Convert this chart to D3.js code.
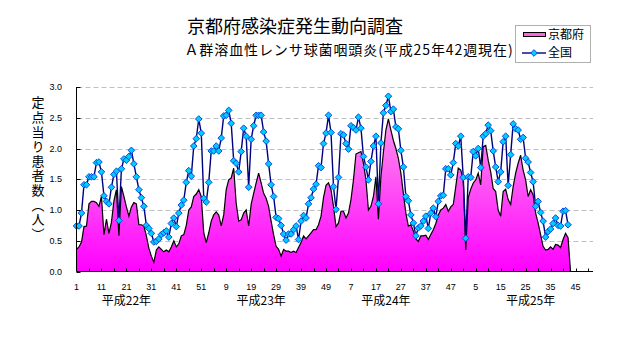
<!DOCTYPE html>
<html>
<head>
<meta charset="utf-8">
<script src="https://cdn.jsdelivr.net/npm/d3@7"></script>
<style>
  body { margin: 0; background: #fff; }
  text { font-family: "Noto Sans CJK JP", sans-serif; fill: #000; }
  .tick-num { font-family: "Liberation Sans Narrow", "Liberation Sans", sans-serif; font-size: 9px; }
</style>
</head>
<body>
<div class="chart"></div>
<script>
// chart texts
let title = "京都府感染症発生動向調査";
let subtitle = "Ａ群溶血性レンサ球菌咽頭炎(平成25年42週現在)";
let yTitle = "定点当り患者数（人）";
let legendNames = ["京都府", "全国"];

// weeks on the category axis: 4 years of 52 weeks
let yearNames = ["平成22年", "平成23年", "平成24年", "平成25年"];
let yearWeeks = [52, 52, 52, 52];
let yearLabelWeek = [21, 23, 21, 27]; // week the year label sits under

let yTicks = [0, 0.5, 1.0, 1.5, 2.0, 2.5, 3.0];

// 定点当り患者数, from week 1 of H22 to week 42 of H25
let kyoto = [
  0.36, 0.40, 0.48, 0.73, 0.74, 1.10, 1.14, 1.14, 1.12, 1.06,
  1.22, 0.60, 0.85, 0.62, 0.80, 1.15, 1.33, 0.58, 1.38, 1.22,
  1.05, 0.90, 1.05, 1.12, 1.10, 0.76, 0.76, 0.74, 0.58, 0.38,
  0.25, 0.15, 0.35, 0.40, 0.36, 0.32, 0.35, 0.32, 0.40, 0.50,
  0.40, 0.45, 0.58, 0.60, 0.75, 1.00, 1.05, 1.22, 1.26, 1.33,
  1.22, 0.63, 0.47, 0.63, 0.82, 0.92, 0.97, 0.92, 0.74, 0.92,
  1.33, 1.49, 1.52, 1.68, 1.11, 0.82, 0.84, 0.95, 1.00, 0.74,
  1.09, 1.27, 1.44, 1.60, 1.44, 1.27, 1.19, 1.06, 0.82, 0.60,
  0.41, 0.36, 0.25, 0.36, 0.33, 0.33, 0.31, 0.33, 0.31, 0.39,
  0.47, 0.58, 0.53, 0.58, 0.63, 0.68, 0.68, 0.76, 0.90, 1.20,
  1.40, 1.44, 1.33, 1.06, 0.73, 0.79, 0.98, 0.98, 0.87, 0.95,
  1.17, 1.49, 1.91, 1.93, 1.95, 1.76, 1.49, 1.00, 1.06, 1.22,
  1.54, 0.85, 1.54, 1.94, 2.30, 2.48, 2.30, 2.13, 2.00, 1.84,
  1.60, 1.27, 0.95, 0.74, 0.76, 0.66, 0.53, 0.49, 0.58, 0.58,
  0.59, 0.52, 0.60, 0.68, 0.78, 0.92, 1.00, 1.03, 1.09, 0.98,
  1.05, 1.09, 1.38, 1.68, 1.65, 1.49, 0.35, 1.20, 1.34, 1.44,
  1.49, 1.60, 1.41, 2.03, 2.05, 1.81, 1.62, 1.35, 1.30, 1.00,
  0.90, 1.30, 1.34, 1.17, 1.09, 1.38, 1.60, 1.76, 1.89, 1.65,
  1.49, 1.22, 1.33, 1.25, 0.95, 0.79, 0.60, 0.41, 0.35, 0.36,
  0.40, 0.36, 0.44, 0.43, 0.39, 0.52, 0.62, 0.55
];

let national = [
  0.74, 0.74, 0.95, 1.41, 1.41, 1.54, 1.54, 1.54, 1.77, 1.78,
  1.62, 1.23, 1.14, 1.10, 1.37, 1.58, 1.63, 0.83, 1.67, 1.83,
  1.81, 1.87, 1.97, 1.75, 1.54, 1.33, 1.20, 1.06, 0.75, 0.70,
  0.62, 0.48, 0.49, 0.53, 0.60, 0.63, 0.66, 0.56, 0.78, 0.87,
  0.73, 0.95, 1.08, 1.16, 1.45, 1.64, 1.55, 2.04, 2.16, 2.48,
  2.25, 1.19, 1.13, 1.45, 1.96, 1.96, 2.04, 1.96, 2.17, 2.53,
  2.54, 2.62, 2.41, 1.80, 1.76, 1.62, 1.95, 2.33, 2.20, 1.37,
  2.15, 2.37, 2.54, 2.54, 2.54, 2.27, 2.12, 1.75, 1.41, 1.22,
  0.88, 0.86, 0.75, 0.61, 0.51, 0.61, 0.61, 0.68, 0.74, 0.52,
  0.82, 0.91, 0.87, 1.10, 1.20, 1.34, 1.42, 1.72, 1.69, 2.08,
  2.25, 2.54, 2.26, 1.38, 1.01, 1.53, 2.24, 2.22, 2.08, 1.99,
  2.37, 2.34, 2.30, 2.51, 2.33, 1.87, 1.70, 1.49, 1.79, 2.04,
  2.20, 1.10, 2.09, 2.58, 2.70, 2.85, 2.60, 2.64, 2.35, 2.32,
  1.97, 1.70, 1.22, 1.15, 0.92, 0.79, 0.58, 0.71, 0.74, 0.82,
  0.90, 0.70, 0.95, 1.03, 0.89, 1.14, 1.23, 1.24, 1.67, 1.67,
  1.57, 1.77, 2.08, 2.04, 2.20, 1.53, 0.54, 1.54, 1.53, 1.95,
  1.88, 2.00, 1.69, 2.20, 2.24, 2.38, 2.29, 1.96, 1.70, 1.46,
  1.62, 2.11, 2.20, 1.40, 1.90, 2.40, 2.32, 2.30, 2.15, 2.18,
  1.84, 1.78, 1.61, 1.46, 1.06, 1.14, 0.96, 0.82, 0.56, 0.65,
  0.69, 0.78, 0.87, 0.75, 0.74, 0.98, 0.99, 0.76
];

// build the category list (one entry per week)
let weeks = [];
yearWeeks.forEach((n, y) => {
  for (let w = 1; w <= n; w++) weeks.push({ year: y, week: w });
});

let outerWidth = 632,
  outerHeight = 348;
let plot = { left: 76.5, right: 593, top: 87, bottom: 271.5 };

let svg = d3
  .select(".chart")
  .append("svg")
  .attr("width", outerWidth)
  .attr("height", outerHeight);

let x = d3.scaleLinear().domain([0, weeks.length - 1]).range([plot.left, plot.right]);
let y = d3.scaleLinear().domain([0, 3]).range([plot.bottom, plot.top]);

// gradient for the kyoto area
let grad = svg
  .append("defs")
  .append("linearGradient")
  .attr("id", "pinkFill")
  .attr("gradientUnits", "userSpaceOnUse")
  .attr("x1", 0).attr("x2", 0)
  .attr("y1", y(3)).attr("y2", y(0));
grad.append("stop").attr("offset", "0%").attr("stop-color", "#ffb0ea");
grad.append("stop").attr("offset", "100%").attr("stop-color", "#ff00ff");

// dashed grid
svg
  .append("g")
  .selectAll("line")
  .data(yTicks.filter((d) => d > 0))
  .enter()
  .append("line")
  .attr("x1", plot.left + 1)
  .attr("x2", plot.right)
  .attr("y1", (d) => Math.round(y(d)) + 0.5)
  .attr("y2", (d) => Math.round(y(d)) + 0.5)
  .attr("stroke", "#c0c0c0")
  .attr("stroke-dasharray", "5,3");

// kyoto area (drops to zero right after the last week)
let kyotoPts = kyoto.map((v, i) => ({ i: i, v: v }));
kyotoPts.push({ i: kyoto.length, v: 0 });

let area = d3
  .area()
  .x((d) => x(d.i))
  .y0(y(0))
  .y1((d) => y(d.v));
svg.append("path").datum(kyotoPts).attr("d", area).attr("fill", "url(#pinkFill)");

let valueLine = d3
  .line()
  .x((d) => x(d.i))
  .y((d) => y(d.v));
svg
  .append("path")
  .datum(kyotoPts)
  .attr("d", valueLine)
  .attr("fill", "none")
  .attr("stroke", "#000")
  .attr("stroke-width", 1.2);

// national line + diamonds
let natPts = national.map((v, i) => ({ i: i, v: v }));
svg
  .append("path")
  .datum(natPts)
  .attr("d", valueLine)
  .attr("fill", "none")
  .attr("stroke", "#000080")
  .attr("stroke-width", 1.4);

let diamond = d3.symbol().type(d3.symbolSquare).size(22);
svg
  .append("g")
  .selectAll("path")
  .data(natPts)
  .enter()
  .append("path")
  .attr("d", diamond)
  .attr("transform", (d) => "translate(" + x(d.i) + "," + y(d.v) + ") rotate(45)")
  .attr("fill", "#00ccff")
  .attr("stroke", "#0044dd")
  .attr("stroke-width", 0.9);

// y axis
let yAxis = svg.append("g");
yAxis
  .append("line")
  .attr("x1", plot.left).attr("x2", plot.left)
  .attr("y1", plot.top).attr("y2", plot.bottom)
  .attr("stroke", "#000");
yAxis
  .selectAll(".yt")
  .data(yTicks)
  .enter()
  .append("line")
  .attr("x1", plot.left)
  .attr("x2", plot.left + 4)
  .attr("y1", (d) => Math.round(y(d)) + 0.5)
  .attr("y2", (d) => Math.round(y(d)) + 0.5)
  .attr("stroke", "#000");
yAxis
  .selectAll("text")
  .data(yTicks)
  .enter()
  .append("text")
  .attr("class", "tick-num")
  .attr("x", 62)
  .attr("y", (d) => y(d))
  .attr("dy", "0.35em")
  .attr("text-anchor", "end")
  .text((d) => d.toFixed(1));

// x axis
let xAxis = svg.append("g");
xAxis
  .append("line")
  .attr("x1", plot.left).attr("x2", plot.right)
  .attr("y1", plot.bottom).attr("y2", plot.bottom)
  .attr("stroke", "#000");
xAxis
  .selectAll(".xt")
  .data(d3.range(5, weeks.length, 5))
  .enter()
  .append("line")
  .attr("x1", (d) => Math.round(x(d)) + 0.5)
  .attr("x2", (d) => Math.round(x(d)) + 0.5)
  .attr("y1", plot.bottom)
  .attr("y2", plot.bottom - 3)
  .attr("stroke", "#000");
xAxis
  .selectAll("text")
  .data(d3.range(0, weeks.length, 10))
  .enter()
  .append("text")
  .attr("class", "tick-num")
  .attr("x", (d) => x(d))
  .attr("y", 290)
  .attr("text-anchor", "middle")
  .text((d) => weeks[d].week);

// year labels
let yearStart = 0;
yearNames.forEach((name, k) => {
  svg
    .append("text")
    .attr("x", x(yearStart + yearLabelWeek[k] - 1))
    .attr("y", 305)
    .attr("text-anchor", "middle")
    .style("font-size", "12px")
    .text(name);
  yearStart += yearWeeks[k];
});

// y title (vertical)
svg
  .append("text")
  .attr("x", 38)
  .attr("y", 96)
  .style("writing-mode", "vertical-rl")
  .style("font-size", "13px")
  .style("letter-spacing", "1.6px")
  .text(yTitle);

// titles
svg
  .append("text")
  .attr("x", 295)
  .attr("y", 33)
  .attr("text-anchor", "middle")
  .style("font-size", "18px")
  .text(title);
svg
  .append("text")
  .attr("x", 349)
  .attr("y", 55)
  .attr("text-anchor", "middle")
  .style("font-size", "14px")
  .style("letter-spacing", "0.9px")
  .text(subtitle);

// legend
let lg = svg.append("g").attr("transform", "translate(515,25)");
lg.append("rect")
  .attr("x", 0.5).attr("y", 0.5)
  .attr("width", 75).attr("height", 37)
  .attr("fill", "#fff")
  .attr("stroke", "#b0b0b0");
lg.append("rect")
  .attr("x", 8.5).attr("y", 7.5)
  .attr("width", 22).attr("height", 4)
  .attr("fill", "#ff66dd")
  .attr("stroke", "#000");
lg.append("line")
  .attr("x1", 7).attr("x2", 31)
  .attr("y1", 28).attr("y2", 28)
  .attr("stroke", "#000080")
  .attr("stroke-width", 1.4);
lg.append("path")
  .attr("d", diamond)
  .attr("transform", "translate(19,28) rotate(45)")
  .attr("fill", "#00ccff")
  .attr("stroke", "#0044dd")
  .attr("stroke-width", 0.9);
lg.selectAll(".lt")
  .data(legendNames)
  .enter()
  .append("text")
  .attr("x", 33)
  .attr("y", (d, i) => 9.5 + i * 18.5)
  .attr("dy", "0.35em")
  .style("font-size", "12px")
  .text((d) => d);
</script>
</body>
</html>
